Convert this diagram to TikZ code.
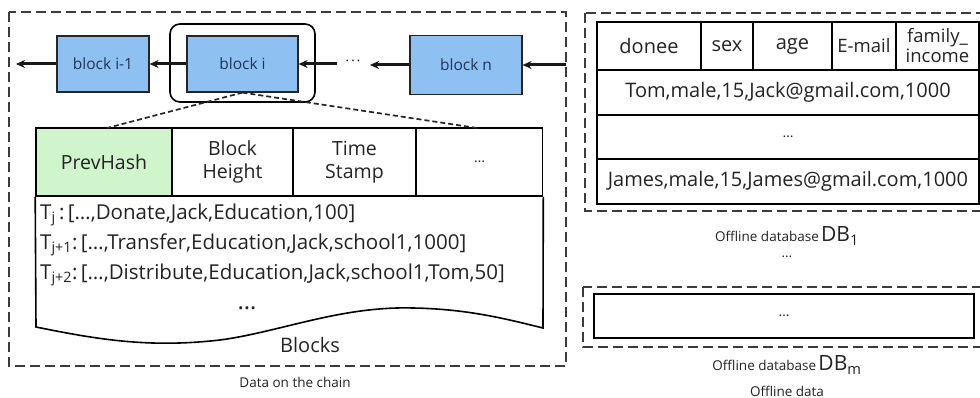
\documentclass[tikz,border=0pt]{standalone}
\usepackage{fontspec}
\setmainfont{Open Sans}
\usetikzlibrary{arrows.meta}

\definecolor{blockblue}{RGB}{142,193,241}
\definecolor{blocktext}{RGB}{30,52,88}
\definecolor{hashgreen}{RGB}{208,244,204}
\definecolor{inkgray}{RGB}{35,35,35}
\definecolor{dashgray}{RGB}{60,60,60}

\tikzset{
  blk/.style={draw=black!85, fill=blockblue, line width=1.2pt, minimum height=56,
    inner sep=0pt, text=blocktext, font=\fontsize{15.5}{18}\selectfont},
  chainarrow/.style={line width=3pt, draw=black!90, -{Stealth[length=9pt,width=8pt]}},
  groupbox/.style={draw=dashgray, line width=1.6pt, dash pattern=on 10pt off 5pt},
  zoomline/.style={draw=black!85, line width=1.7pt, dash pattern=on 5pt off 3pt},
  cell/.style={draw=black, line width=1.6pt, inner sep=0pt, text=inkgray,
    align=center, font=\fontsize{19.5}{23}\selectfont},
  rcell/.style={draw=black, line width=1.8pt, inner sep=0pt, text=inkgray,
    align=center, font=\fontsize{20}{22}\selectfont},
  txline/.style={anchor=west, inner sep=0pt, text=inkgray, font=\fontsize{20.5}{23}\selectfont},
  caption/.style={inner sep=0pt, text=inkgray, font=\fontsize{13.5}{16}\selectfont},
}

\begin{document}
\begin{tikzpicture}[x=1pt,y=-1pt]
\useasboundingbox (0,0) rectangle (980,398);

% ---------------- chain of blocks ----------------
\draw[groupbox] (9,12) rectangle (566,366);

\node[blk, minimum width=92]  (bprev) at (103,64)   {block i-1};
\node[blk, minimum width=111] (bi)    at (242.5,64) {block i};
\node[blk, minimum width=112, minimum height=59] (bn) at (466,65) {block n};
\node[draw=black, line width=1.6pt, rounded corners=10pt, minimum width=145,
      minimum height=78, inner sep=0pt] (sel) at (242.5,63) {};

\coordinate (chainend) at (16,64);
\coordinate (gapleft)  at (337,64);
\coordinate (gapright) at (370,65);
\coordinate (chainin)  at (566,65);

\draw[chainarrow] (bprev.west) -- (chainend);
\draw[chainarrow] (bi.west) -- (bprev.east);
\draw[chainarrow] (gapleft) -- (bi.east);
\draw[chainarrow] (bn.west) -- (gapright);
\draw[chainarrow] (chainin) -- (bn.east);
\node[inner sep=0pt, font=\fontsize{13}{15}\selectfont] (gapdots) at (353,63) {·\,·\,·};

% ---------------- content of block i ----------------
\node[cell, fill=hashgreen, minimum width=136, minimum height=68] (ph) at (104,162)   {PrevHash};
\node[cell, minimum width=121, minimum height=68] (bh) at (232.5,162) {Block\\Height};
\node[cell, minimum width=123, minimum height=68] (ts) at (354.5,162) {Time\\Stamp};
\node[cell, minimum width=126, minimum height=68, font=\fontsize{14}{16}\selectfont] (hd) at (479.5,162) {…};

\coordinate (zoomleft)  at (107,128);
\coordinate (zoomright) at (477,128);
\draw[zoomline] (bi.south) -- (zoomleft);
\draw[zoomline] (bi.south) -- (zoomright);

\draw[line width=1.6pt, draw=black]
  (ph.south west) -- (36,327)
  .. controls (100,340) and (150,348) .. (220,340)
  .. controls (280,332) and (340,306) .. (413,308)
  .. controls (470,309) and (510,320) .. (543,328)
  -- (hd.south east);

\node[txline] (t1) at (40,215) {T\textsubscript{j}\,:\,[…,Donate,Jack,Education,100]};
\node[txline] (t2) at (40,245) {T\textsubscript{j+1}:\,[…,Transfer,Education,Jack,school1,1000]};
\node[txline] (t3) at (40,275) {T\textsubscript{j+2}:\,[…,Distribute,Education,Jack,school1,Tom,50]};
\node[inner sep=0pt, text=inkgray, font=\fontsize{24}{26}\selectfont] (tmore) at (247,308) {…};
\node[inner sep=0pt, text=inkgray, font=\fontsize{20}{22}\selectfont] (blocks) at (310,345) {Blocks};

\node[caption] (onchain) at (295,382) {Data on the chain};

% ---------------- offline database 1 ----------------
\draw[groupbox] (585,13) rectangle (1000,211);

\node[rcell, minimum width=104, minimum height=48] (hdonee) at (649,46)   {donee};
\node[rcell, minimum width=52,  minimum height=48] (hsex)   at (727,46)   {sex};
\node[rcell, minimum width=79,  minimum height=48] (hage)   at (792.5,46) {age};
\node[rcell, minimum width=64,  minimum height=48, font=\fontsize{18.5}{21}\selectfont] (hmail) at (864,46) {E-mail};
\node[rcell, minimum width=83,  minimum height=48, font=\fontsize{18.5}{20}\selectfont] (hinc)  at (937.5,46) {family\_\\income};
\node[rcell, minimum width=382, minimum height=45] (row1) at (788,92.5)  {Tom,male,15,Jack@gmail.com,1000};
\node[rcell, minimum width=382, minimum height=44, font=\fontsize{14}{16}\selectfont] (row2) at (788,137) {…};
\node[rcell, minimum width=382, minimum height=45] (row3) at (788,181.5) {James,male,15,James@gmail.com,1000};

\node[caption] (db1) at (787,236) {Offline database\,{\fontsize{21}{24}\selectfont DB\textsubscript{1}}};
\node[caption] (dbgap) at (787,257) {…};

% ---------------- offline database m ----------------
\draw[groupbox] (583,287) rectangle (1000,347);
\node[rcell, minimum width=380, minimum height=44, font=\fontsize{14}{16}\selectfont] (dbm) at (784,316) {…};
\node[caption] (dbmlabel) at (787,365) {Offline database\,{\fontsize{21}{24}\selectfont DB\textsubscript{m}}};
\node[caption] (offline) at (787,391) {Offline data};

\end{tikzpicture}
\end{document}
